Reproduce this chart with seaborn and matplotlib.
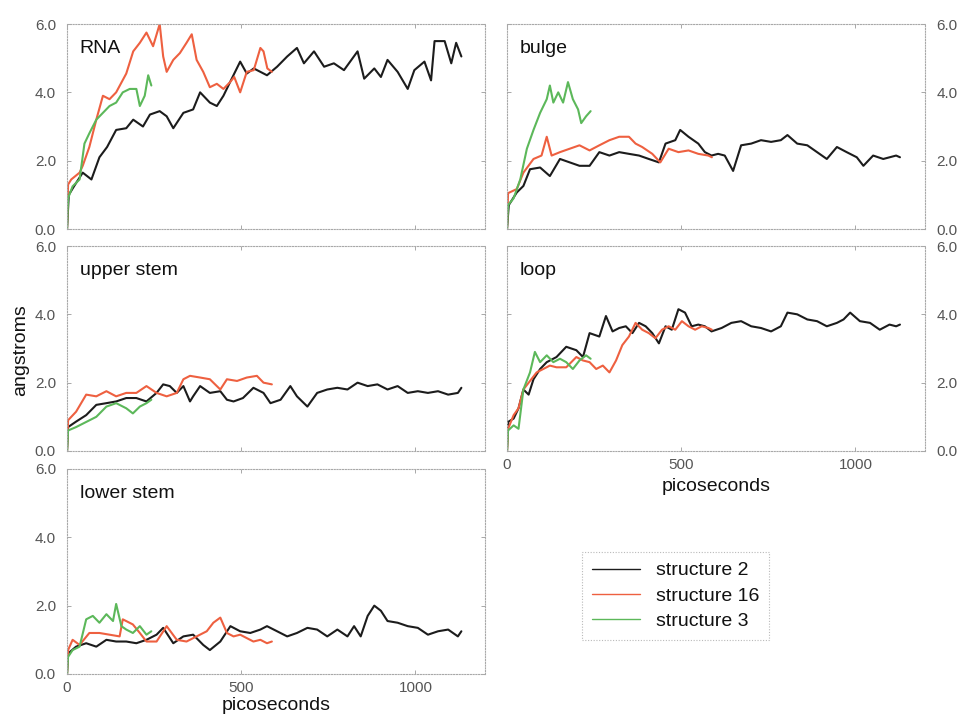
import matplotlib
matplotlib.use("Agg")
import matplotlib.pyplot as plt
import pandas as pd
import seaborn as sns
from matplotlib.lines import Line2D

# ---- RMSD traces (time in ps, deviation in angstroms) ----
structures = ["structure 2", "structure 16", "structure 3"]
colors = ["#1c1c1c", "#ee6040", "#5cb85a"]
regions = ["RNA", "bulge", "upper stem", "loop", "lower stem"]

rna_s2_t = [0, 5, 20, 45, 70, 93, 115, 141, 170, 190, 218, 238, 266, 286, 305, 334, 362, 382, 410, 430,
            449, 468, 497, 516, 536, 574, 603, 632, 660, 680, 709, 738, 766, 795, 834, 853, 882, 901, 920,
            949, 978, 997, 1026, 1045, 1055, 1084, 1103, 1117, 1132]
rna_s2_y = [0.0, 1.0, 1.25, 1.65, 1.45, 2.1, 2.4, 2.9, 2.95, 3.2, 3.0, 3.35, 3.45, 3.3, 2.95, 3.4, 3.5, 4.0,
            3.7, 3.6, 3.9, 4.3, 4.9, 4.55, 4.7, 4.5, 4.75, 5.05, 5.3, 4.85, 5.2, 4.75, 4.85, 4.65, 5.2, 4.4,
            4.7, 4.45, 4.95, 4.6, 4.1, 4.65, 4.9, 4.35, 5.5, 5.5, 4.85, 5.45, 5.05]
rna_s16_t = [0, 3, 12, 36, 45, 64, 84, 103, 122, 141, 170, 190, 209, 228, 247, 266, 276, 286, 305, 324,
             343, 358, 372, 391, 410, 430, 449, 468, 480, 497, 516, 536, 555, 564, 575, 588]
rna_s16_y = [0.0, 1.3, 1.45, 1.65, 1.85, 2.4, 3.2, 3.9, 3.8, 4.0, 4.55, 5.2, 5.45, 5.75, 5.35, 6.0, 5.05,
             4.6, 4.95, 5.15, 5.45, 5.7, 4.95, 4.6, 4.15, 4.25, 4.1, 4.3, 4.45, 4.0, 4.6, 4.65, 5.3, 5.2,
             4.7, 4.6]
rna_s3_t = [0, 3, 16, 36, 50, 64, 84, 103, 122, 141, 160, 180, 199, 209, 223, 233, 242]
rna_s3_y = [0.0, 0.9, 1.25, 1.45, 2.5, 2.8, 3.2, 3.4, 3.6, 3.7, 4.0, 4.1, 4.1, 3.6, 3.9, 4.5, 4.2]

bulge_s2_t = [0, 5, 28, 47, 66, 95, 123, 152, 180, 208, 237, 265, 294, 322, 350, 379, 407, 436, 455, 483,
              497, 521, 549, 568, 587, 606, 625, 649, 672, 701, 729, 758, 786, 805, 833, 862, 890, 918,
              947, 975, 1004, 1023, 1051, 1080, 1117, 1128]
bulge_s2_y = [0.0, 0.7, 1.07, 1.26, 1.75, 1.8, 1.55, 2.05, 1.95, 1.85, 1.85, 2.25, 2.15, 2.25, 2.2, 2.15,
              2.05, 1.95, 2.5, 2.6, 2.9, 2.7, 2.5, 2.25, 2.15, 2.2, 2.15, 1.7, 2.45, 2.5, 2.6, 2.55, 2.6,
              2.75, 2.5, 2.45, 2.25, 2.05, 2.4, 2.25, 2.1, 1.85, 2.15, 2.05, 2.15, 2.1]
bulge_s16_t = [0, 3, 28, 47, 76, 99, 114, 128, 152, 180, 208, 237, 265, 294, 322, 350, 369, 388, 417, 440,
               464, 492, 521, 549, 578, 588]
bulge_s16_y = [0.0, 1.05, 1.17, 1.65, 2.05, 2.15, 2.7, 2.15, 2.25, 2.35, 2.45, 2.3, 2.45, 2.6, 2.7, 2.7,
               2.5, 2.4, 2.2, 1.95, 2.35, 2.25, 2.3, 2.2, 2.15, 2.1]
bulge_s3_t = [0, 3, 19, 38, 57, 76, 95, 114, 123, 133, 147, 161, 175, 189, 204, 213, 227, 240]
bulge_s3_y = [0.0, 0.7, 0.9, 1.45, 2.35, 2.9, 3.4, 3.8, 4.2, 3.7, 4.0, 3.7, 4.3, 3.8, 3.5, 3.1, 3.3, 3.45]

upper_s2_t = [0, 3, 26, 55, 84, 113, 141, 170, 199, 228, 257, 276, 295, 315, 334, 353, 362, 382, 410, 440,
              459, 478, 505, 535, 564, 584, 613, 641, 660, 690, 718, 747, 776, 805, 834, 863, 891, 920,
              949, 978, 1007, 1036, 1065, 1094, 1122, 1132]
upper_s2_y = [0.0, 0.7, 0.86, 1.05, 1.35, 1.4, 1.45, 1.55, 1.55, 1.45, 1.7, 1.95, 1.9, 1.7, 1.9, 1.45,
              1.6, 1.9, 1.7, 1.75, 1.5, 1.45, 1.55, 1.85, 1.7, 1.4, 1.5, 1.9, 1.6, 1.3, 1.7, 1.8, 1.85,
              1.8, 2.0, 1.9, 1.95, 1.8, 1.9, 1.7, 1.75, 1.7, 1.75, 1.65, 1.7, 1.85]
upper_s16_t = [0, 3, 26, 55, 84, 113, 141, 170, 199, 228, 257, 286, 315, 334, 353, 382, 410, 440, 459, 488,
               516, 545, 564, 588]
upper_s16_y = [0.0, 0.9, 1.15, 1.65, 1.6, 1.75, 1.6, 1.7, 1.7, 1.9, 1.7, 1.6, 1.7, 2.1, 2.2, 2.15, 2.1,
               1.8, 2.1, 2.05, 2.15, 2.2, 2.0, 1.95]
upper_s3_t = [0, 3, 26, 55, 84, 113, 141, 170, 189, 209, 228, 242]
upper_s3_y = [0.0, 0.6, 0.7, 0.85, 1.0, 1.3, 1.4, 1.25, 1.1, 1.3, 1.4, 1.5]

loop_s2_t = [0, 3, 19, 33, 47, 62, 76, 95, 114, 142, 170, 199, 218, 237, 265, 284, 303, 322, 341, 360, 379,
             398, 417, 436, 455, 473, 492, 511, 530, 549, 568, 587, 616, 644, 672, 701, 729, 758, 786,
             805, 833, 862, 890, 918, 947, 966, 985, 1013, 1042, 1070, 1098, 1117, 1128]
loop_s2_y = [0.0, 0.85, 0.95, 1.25, 1.8, 1.65, 2.1, 2.4, 2.6, 2.75, 3.05, 2.95, 2.75, 3.45, 3.35, 3.95,
             3.5, 3.6, 3.65, 3.45, 3.75, 3.65, 3.45, 3.15, 3.65, 3.55, 4.15, 4.05, 3.65, 3.7, 3.65, 3.5,
             3.6, 3.75, 3.8, 3.65, 3.6, 3.5, 3.65, 4.05, 4.0, 3.85, 3.8, 3.65, 3.75, 3.85, 4.05, 3.8,
             3.75, 3.55, 3.7, 3.65, 3.7]
loop_s16_t = [0, 3, 19, 33, 47, 66, 85, 104, 123, 142, 170, 199, 218, 237, 256, 275, 294, 313, 331, 350,
              369, 388, 407, 426, 445, 464, 483, 502, 521, 540, 559, 578, 588]
loop_s16_y = [0.0, 0.65, 1.05, 1.25, 1.8, 2.05, 2.3, 2.4, 2.5, 2.45, 2.45, 2.75, 2.65, 2.6, 2.4, 2.5, 2.3,
              2.65, 3.1, 3.35, 3.75, 3.55, 3.45, 3.3, 3.55, 3.65, 3.55, 3.8, 3.65, 3.55, 3.65, 3.6, 3.55]
loop_s3_t = [0, 3, 19, 33, 47, 66, 80, 95, 114, 133, 152, 170, 189, 208, 227, 240]
loop_s3_y = [0.0, 0.6, 0.75, 0.65, 1.8, 2.3, 2.9, 2.6, 2.8, 2.6, 2.7, 2.6, 2.4, 2.65, 2.8, 2.7]

lower_s2_t = [0, 3, 26, 55, 84, 113, 141, 170, 199, 228, 257, 276, 305, 334, 362, 391, 410, 440, 469, 497,
              526, 555, 574, 603, 632, 660, 690, 718, 747, 776, 805, 824, 843, 863, 882, 901, 920, 949,
              978, 1007, 1036, 1065, 1094, 1122, 1132]
lower_s2_y = [0.0, 0.6, 0.8, 0.9, 0.8, 1.0, 0.95, 0.95, 0.9, 1.0, 1.15, 1.35, 0.9, 1.1, 1.15, 0.85, 0.7,
              0.95, 1.4, 1.25, 1.2, 1.3, 1.4, 1.25, 1.1, 1.2, 1.35, 1.3, 1.1, 1.3, 1.1, 1.4, 1.1, 1.7,
              2.0, 1.85, 1.55, 1.5, 1.4, 1.35, 1.15, 1.25, 1.3, 1.1, 1.25]
lower_s16_t = [0, 3, 16, 36, 64, 93, 122, 151, 160, 189, 209, 228, 257, 286, 315, 343, 372, 401, 420, 440,
               459, 478, 497, 516, 535, 555, 574, 588]
lower_s16_y = [0.0, 0.7, 1.0, 0.85, 1.2, 1.2, 1.15, 1.1, 1.6, 1.45, 1.2, 0.95, 0.95, 1.4, 1.0, 0.95, 1.1,
               1.25, 1.5, 1.65, 1.2, 1.1, 1.15, 1.05, 0.95, 1.0, 0.9, 0.95]
lower_s3_t = [0, 3, 16, 36, 55, 74, 93, 113, 132, 141, 156, 170, 189, 209, 228, 242]
lower_s3_y = [0.0, 0.5, 0.7, 0.8, 1.6, 1.7, 1.5, 1.75, 1.55, 2.05, 1.4, 1.3, 1.2, 1.4, 1.15, 1.25]

x_ticks = [0, 500, 1000]
y_ticks = [0.0, 2.0, 4.0, 6.0]

traces = {
    "RNA": [(rna_s2_t, rna_s2_y), (rna_s16_t, rna_s16_y), (rna_s3_t, rna_s3_y)],
    "bulge": [(bulge_s2_t, bulge_s2_y), (bulge_s16_t, bulge_s16_y), (bulge_s3_t, bulge_s3_y)],
    "upper stem": [(upper_s2_t, upper_s2_y), (upper_s16_t, upper_s16_y), (upper_s3_t, upper_s3_y)],
    "loop": [(loop_s2_t, loop_s2_y), (loop_s16_t, loop_s16_y), (loop_s3_t, loop_s3_y)],
    "lower stem": [(lower_s2_t, lower_s2_y), (lower_s16_t, lower_s16_y), (lower_s3_t, lower_s3_y)],
}

sns.set_style("white")
plt.rcParams["font.family"] = ["Liberation Sans", "DejaVu Sans"]

fig = plt.figure(figsize=(9.59, 7.17), dpi=100)

W, H = 0.4359, 0.2859
left_x, right_x = 0.0699, 0.5287
rows_y = [0.6806, 0.3710, 0.0600]
layout = {
    "RNA": (left_x, rows_y[0], "left", False),
    "bulge": (right_x, rows_y[0], "right", False),
    "upper stem": (left_x, rows_y[1], "left", False),
    "loop": (right_x, rows_y[1], "right", True),
    "lower stem": (left_x, rows_y[2], "left", True),
}

tick_col = "#555555"
frame_col = "#a8a8a8"
palette = dict(zip(structures, colors))

for name in regions:
    x0, y0, yside, show_x = layout[name]
    ax = fig.add_axes([x0, y0, W, H])
    rows = []
    for s, (t, y) in zip(structures, traces[name]):
        rows.append(pd.DataFrame({"time": t, "rmsd": y, "structure": s}))
    df = pd.concat(rows, ignore_index=True)
    sns.lineplot(data=df, x="time", y="rmsd", hue="structure", palette=palette,
                 estimator=None, sort=False, linewidth=1.5, legend=False, ax=ax)
    ax.set_xlim(0, 1200)
    ax.set_ylim(0, 6)
    ax.set_xticks(x_ticks)
    ax.set_yticks(y_ticks)
    ax.set_yticklabels([f"{v:.1f}" for v in y_ticks])
    ax.set_xlabel("")
    ax.set_ylabel("")
    for sp in ax.spines.values():
        sp.set_linestyle((0, (1, 1.5)))
        sp.set_color(frame_col)
        sp.set_linewidth(0.8)
    ax.tick_params(axis="both", direction="in", length=3, width=0.7, color=frame_col,
                   labelsize=11, labelcolor=tick_col, top=True, bottom=True, left=True, right=True)
    if yside == "right":
        ax.tick_params(axis="y", labelleft=False, labelright=True, pad=8)
    else:
        ax.tick_params(axis="y", labelleft=True, labelright=False, pad=8)
    ax.tick_params(axis="x", labelbottom=show_x, pad=5)
    ax.text(0.03, 0.88, name, transform=ax.transAxes, fontsize=14, color="#111111",
            ha="left", va="center")

fig.text(0.021, 0.512, "angstroms", rotation=90, fontsize=14, color="#111111",
         ha="center", va="center")
fig.text(left_x + W / 2, 0.016, "picoseconds", fontsize=14, color="#111111",
         ha="center", va="center")
fig.text(right_x + W / 2, 0.321, "picoseconds", fontsize=14, color="#111111",
         ha="center", va="center")

handles = [Line2D([0], [0], color=c, linewidth=1.0) for c in colors]
leg = fig.legend(handles, structures, loc="upper left", bbox_to_anchor=(0.607, 0.230),
                 frameon=True, fancybox=False, fontsize=14, handlelength=2.5,
                 handletextpad=0.8, borderpad=0.5, labelspacing=0.4, borderaxespad=0)
frame = leg.get_frame()
frame.set_edgecolor(frame_col)
frame.set_linestyle((0, (1, 1.5)))
frame.set_linewidth(0.8)
for txt in leg.get_texts():
    txt.set_color("#111111")

fig.savefig("out.png", dpi=100, facecolor="white")
